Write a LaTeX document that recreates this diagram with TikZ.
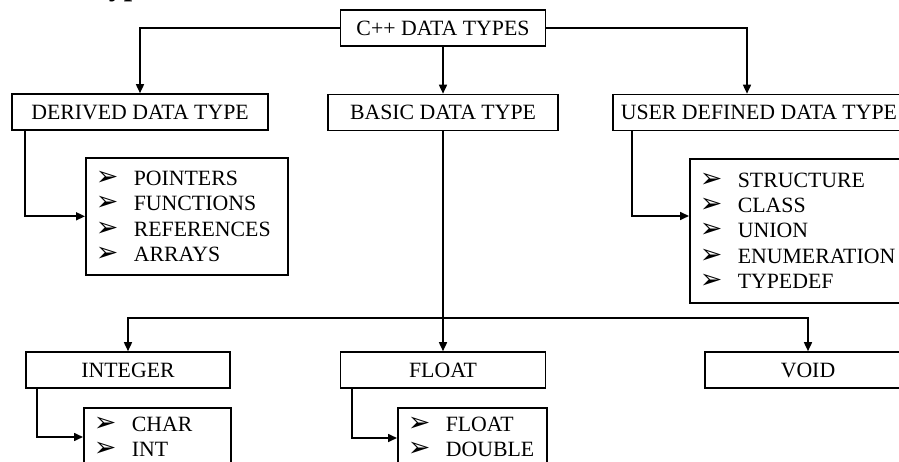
\documentclass[tikz,border=0pt]{standalone}
\usepackage{fontspec}
\setmainfont{Liberation Serif}
\newfontfamily\bulfont{DejaVu Sans}
\usetikzlibrary{arrows.meta}

\newcommand{\boxfont}{\fontsize{21.8}{25.3}\selectfont}
\newcommand{\itm}[1]{\makebox[38pt][l]{\bulfont\fontsize{27}{25.3}\selectfont ➢}#1}

\tikzset{
  box/.style={draw, line width=1.6pt, minimum height=36pt, inner sep=0pt, font=\boxfont},
  listbox/.style={draw, line width=1.6pt, align=left, anchor=north west, inner xsep=10pt, font=\boxfont},
  arr/.style={line width=1.6pt, -{Triangle[length=9pt,width=8pt]}},
}

\begin{document}
\begin{tikzpicture}[x=1pt, y=-1pt]
  \path[use as bounding box, clip] (0,0) rectangle (899,462);
  % heading, cut off by the page edge
  \node[anchor=base west, inner sep=0pt, font=\fontsize{30}{30}\selectfont\bfseries] (head) at (91,-4) {Types};

  % top level
  \node[box, minimum width=205pt] (root) at (443,28) {C++ DATA TYPES};
  \node[box, minimum width=256pt] (derived) at (140,112) {DERIVED DATA TYPE};
  \node[box, minimum width=230pt] (basic) at (443,112.5) {BASIC DATA TYPE};
  \node[box, anchor=west, inner xsep=8pt] (user) at (612,112.5) {USER DEFINED DATA TYPE};

  % lists
  \node[listbox, text width=182pt, minimum height=117pt] (dlist) at (85,157)
    {\itm{POINTERS}\\ \itm{FUNCTIONS}\\ \itm{REFERENCES}\\ \itm{ARRAYS}};
  \node[listbox, text width=202pt, minimum height=144pt] (ulist) at (689,158)
    {\itm{STRUCTURE}\\ \itm{CLASS}\\ \itm{UNION}\\ \itm{ENUMERATION}\\ \itm{TYPEDEF}};

  % basic types
  \node[box, minimum width=204pt] (integer) at (128,370) {INTEGER};
  \node[box, minimum width=205pt] (float) at (443,370) {FLOAT};
  \node[box, minimum width=206pt] (void) at (808,370) {VOID};

  \node[listbox, text width=127pt, inner ysep=9pt] (ilist) at (83,407) {\itm{CHAR}\\ \itm{INT}};
  \node[listbox, text width=129pt, inner ysep=9pt] (flist) at (397,407) {\itm{FLOAT}\\ \itm{DOUBLE}};

  % connectors
  \draw[arr] (root.west) -| (derived.north);
  \coordinate (ujoin) at (747,28);
  \draw[arr] (root.east) -- (ujoin) -- (ujoin |- user.north);
  \draw[arr] (root.south) -- (basic.north);
  \draw[arr] ([xshift=14pt]derived.south west) |- (dlist.west);
  \draw[arr] ([xshift=20pt]user.south west) |- ([yshift=-58pt]ulist.north west);
  \draw[arr] (basic.south) -- (float.north);
  \coordinate (bjoin) at (443,318);
  \draw[arr] (bjoin) -| (integer.north);
  \draw[arr] (bjoin) -| (void.north);
  \draw[arr] ([xshift=12pt]integer.south west) |- ([yshift=-30pt]ilist.north west);
  \draw[arr] ([xshift=12pt]float.south west) |- ([yshift=-31pt]flist.north west);
\end{tikzpicture}
\end{document}
